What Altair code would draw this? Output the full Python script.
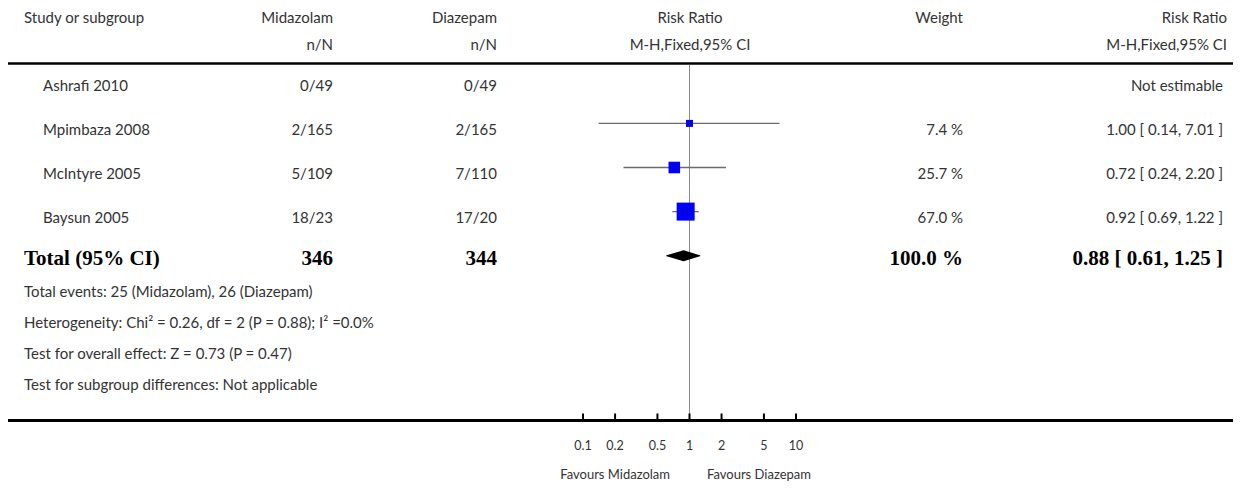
import altair as alt
import pandas as pd

# ---------------- data ----------------
studies = ["Ashrafi 2010", "Mpimbaza 2008", "McIntyre 2005", "Baysun 2005"]
midazolam_nN = ["0/49", "2/165", "5/109", "18/23"]
diazepam_nN = ["0/49", "2/165", "7/110", "17/20"]
weight_pct = [None, 7.4, 25.7, 67.0]
risk_ratio = [None, 1.00, 0.72, 0.92]
ci_low = [None, 0.14, 0.24, 0.69]
ci_high = [None, 7.01, 2.20, 1.22]

total_label = "Total (95% CI)"
total_midazolam = "346"
total_diazepam = "344"
total_weight = 100.0
total_rr = 0.88
total_low = 0.61
total_high = 1.25

stats_lines = [
    "Total events: 25 (Midazolam), 26 (Diazepam)",
    "Heterogeneity: Chi\u00b2 = 0.26, df = 2 (P = 0.88); I\u00b2 =0.0%",
    "Test for overall effect: Z = 0.73 (P = 0.47)",
    "Test for subgroup differences: Not applicable",
]
tick_values = [0.1, 0.2, 0.5, 1, 2, 5, 10]
tick_labels = ["0.1", "0.2", "0.5", "1", "2", "5", "10"]

# ---------------- tables ----------------
rows = studies + [total_label]


def fmt_w(w):
    return "" if w is None else f"{w:.1f} %"


def fmt_rr(r, l, h):
    return "Not estimable" if r is None else f"{r:.2f} [ {l:.2f}, {h:.2f} ]"


study_df = pd.DataFrame({
    "row": studies,
    "mid": midazolam_nN,
    "dia": diazepam_nN,
    "wtxt": [fmt_w(w) for w in weight_pct],
    "rrtxt": [fmt_rr(r, l, h) for r, l, h in zip(risk_ratio, ci_low, ci_high)],
})
est_df = pd.DataFrame({
    "row": studies, "rr": risk_ratio, "lo": ci_low, "hi": ci_high, "w": weight_pct,
}).dropna()
total_df = pd.DataFrame({
    "row": [total_label],
    "mid": [total_midazolam],
    "dia": [total_diazepam],
    "wtxt": [fmt_w(total_weight)],
    "rrtxt": [fmt_rr(total_rr, total_low, total_high)],
})
diamond_df = pd.DataFrame({
    "row": [total_label] * 3,
    "x": [total_low, total_rr, total_high],
    "half": [0, 1, 0],
})
ticks_df = pd.DataFrame({"v": tick_values, "lab": tick_labels})

# ---------------- layout helpers ----------------
FONT = "Lato"
SERIF = "Liberation Serif"
TXT = "#333333"
REG = 15
BOLD = 21

X = alt.Scale(type="log", domain=[0.1, 10], range=[575, 788])
Y = alt.Y("row:N", scale=alt.Scale(type="point", domain=rows, range=[71.3, 247.7], padding=0), axis=None)


def col(df, field, x, align, dy=6.5, size=REG, font=FONT, weight="normal"):
    return alt.Chart(df).mark_text(
        align=align, baseline="middle", dy=dy, fontSize=size, font=font,
        fontWeight=weight, color=TXT if weight == "normal" else "black",
    ).encode(x=alt.value(x), y=Y, text=alt.Text(f"{field}:N"))


def label(text, x, y, align, size=REG):
    return alt.Chart(pd.DataFrame({"t": [text]})).mark_text(
        align=align, baseline="middle", fontSize=size, font=FONT, color=TXT
    ).encode(x=alt.value(x), y=alt.value(y), text="t:N")


def hline(y, w):
    return alt.Chart(pd.DataFrame({"a": [0]})).mark_rule(color="black", strokeWidth=w).encode(
        x=alt.value(0), x2=alt.value(1225), y=alt.value(y))


layers = []
# headers
layers += [
    label("Study or subgroup", 16, 10, "left"),
    label("Midazolam", 325, 10, "right"),
    label("n/N", 325, 37, "right"),
    label("Diazepam", 489, 10, "right"),
    label("n/N", 489, 37, "right"),
    label("Risk Ratio", 682, 10, "center"),
    label("M-H,Fixed,95% CI", 682, 37, "center"),
    label("Weight", 955, 10, "right"),
    label("Risk Ratio", 1219, 10, "right"),
    label("M-H,Fixed,95% CI", 1219, 37, "right"),
]
layers += [hline(55.5, 2.5), hline(412.5, 3)]

# study rows
layers += [
    col(study_df, "row", 35, "left"),
    col(study_df, "mid", 325, "right"),
    col(study_df, "dia", 489, "right"),
    col(study_df, "wtxt", 955, "right"),
    col(study_df, "rrtxt", 1215, "right"),
]
# total row
layers += [
    col(total_df, "row", 16, "left", dy=3.5, size=BOLD, font=SERIF, weight="bold"),
    col(total_df, "mid", 325, "right", dy=3.5, size=BOLD, font=SERIF, weight="bold"),
    col(total_df, "dia", 489, "right", dy=3.5, size=BOLD, font=SERIF, weight="bold"),
    col(total_df, "wtxt", 955, "right", dy=3.5, size=BOLD, font=SERIF, weight="bold"),
    col(total_df, "rrtxt", 1215, "right", dy=3.5, size=BOLD, font=SERIF, weight="bold"),
]
# stats lines
for t, yy in zip(stats_lines, [284, 315, 346, 377]):
    layers.append(label(t, 16, yy, "left"))

# forest plot
layers.append(
    alt.Chart(pd.DataFrame({"v": [1]})).mark_rule(color="#8a8a8a", strokeWidth=1).encode(
        x=alt.X("v:Q", scale=X, axis=None), y=alt.value(57), y2=alt.value(412))
)
layers.append(
    alt.Chart(est_df).mark_rule(color="#6b6b6b", strokeWidth=1.3).encode(
        x=alt.X("lo:Q", scale=X, axis=None), x2="hi:Q", y=Y)
)
layers.append(
    alt.Chart(est_df).mark_square(filled=True, opacity=1, color="#0000ff").encode(
        x=alt.X("rr:Q", scale=X, axis=None), y=Y,
        size=alt.Size("w:Q", scale=alt.Scale(domain=[7.4, 67], range=[49, 324], zero=False), legend=None))
)
layers.append(
    alt.Chart(est_df).mark_tick(color="#222222", thickness=1.2, size=5).encode(
        x=alt.X("rr:Q", scale=X, axis=None), y=Y)
)
layers.append(
    alt.Chart(diamond_df).mark_trail(color="black").encode(
        x=alt.X("x:Q", scale=X, axis=None), y=Y,
        size=alt.Size("half:Q", scale=alt.Scale(domain=[0, 1], range=[0, 11]), legend=None))
)
# axis ticks and labels
layers.append(
    alt.Chart(ticks_df).mark_rule(color="black", strokeWidth=2).encode(
        x=alt.X("v:Q", scale=X, axis=None), y=alt.value(405.5), y2=alt.value(412))
)
layers.append(
    alt.Chart(ticks_df).mark_text(fontSize=12.5, font=FONT, color=TXT, baseline="middle").encode(
        x=alt.X("v:Q", scale=X, axis=None), y=alt.value(438), text="lab:N")
)
layers += [
    label("Favours Midazolam", 662, 467, "right", size=13),
    label("Favours Diazepam", 699, 467, "left", size=13),
]

chart = alt.layer(*layers).properties(
    width=1225, height=478, padding=0, autosize=alt.AutoSizeParams(type="none")
).resolve_scale(size="independent").configure_view(stroke=None)

chart.save("out.html", embed_options={"renderer": "svg", "actions": False})
